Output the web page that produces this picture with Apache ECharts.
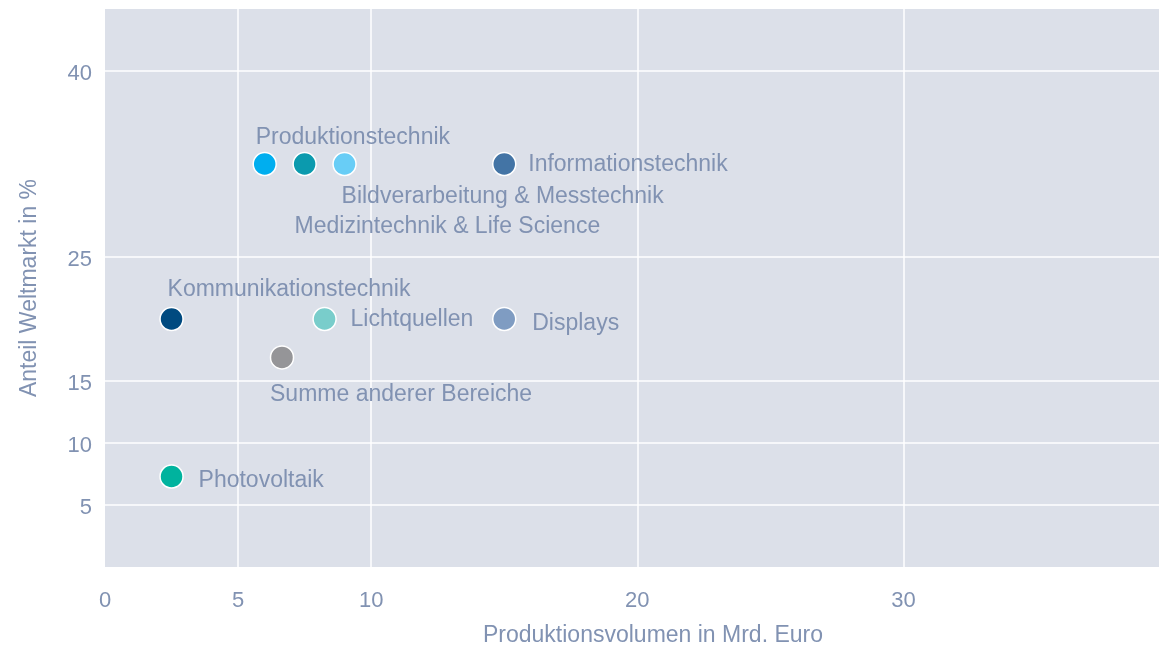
<!DOCTYPE html>
<html>
<head>
<meta charset="utf-8">
<script src="https://cdn.jsdelivr.net/npm/echarts@6/dist/echarts.min.js"></script>
<style>
  html, body { margin: 0; padding: 0; background: #ffffff; }
  #chart { width: 1159px; height: 648px; }
</style>
</head>
<body>
<div id="chart"></div>
<script>
// Bereiche, Produktionsvolumen (Mrd. Euro) und Anteil am Weltmarkt (%)
const bereiche = [
  'Produktionstechnik',
  'Medizintechnik & Life Science',
  'Bildverarbeitung & Messtechnik',
  'Informationstechnik',
  'Kommunikationstechnik',
  'Lichtquellen',
  'Displays',
  'Summe anderer Bereiche',
  'Photovoltaik'
];
const produktionsvolumen = [6, 7.5, 9, 15, 2.5, 8.25, 15, 6.65, 2.5];
const weltmarktanteil = [32.5, 32.5, 32.5, 32.5, 20, 20, 20, 16.9, 7.3];

const xTickLabels = [0, 5, 10, 20, 30];
const xGridValues = [5, 10, 20, 30];
const yTickLabels = [5, 10, 15, 25, 40];

// Farben und Beschriftungsversatz je Bereich
const farben = {
  'Produktionstechnik': '#00aeef',
  'Medizintechnik & Life Science': '#0b9aae',
  'Bildverarbeitung & Messtechnik': '#68cdf6',
  'Informationstechnik': '#4374a5',
  'Kommunikationstechnik': '#004a80',
  'Lichtquellen': '#79cdcb',
  'Displays': '#7f9cc2',
  'Summe anderer Bereiche': '#959598',
  'Photovoltaik': '#00b39e'
};
const labelVersatz = {
  'Produktionstechnik': [-9, -26],
  'Medizintechnik & Life Science': [-10, 63],
  'Bildverarbeitung & Messtechnik': [-3, 33],
  'Informationstechnik': [24, 1],
  'Kommunikationstechnik': [-4, -29],
  'Lichtquellen': [26, 1],
  'Displays': [28, 5],
  'Summe anderer Bereiche': [-12, 37],
  'Photovoltaik': [27, 4]
};

const textFarbe = '#8192b2';
const schrift = 'Liberation Sans';

const punkte = bereiche.map((name, i) => ({
  name: name,
  value: [produktionsvolumen[i], weltmarktanteil[i]],
  itemStyle: { color: farben[name] },
  label: { offset: labelVersatz[name] }
}));

const chart = echarts.init(document.getElementById('chart'), null, { renderer: 'canvas' });
chart.setOption({
  backgroundColor: '#ffffff',
  animation: false,
  grid: {
    left: 105, right: 0, top: 9, bottom: 81,
    outerBoundsMode: 'none',
    containLabel: false,
    show: true, backgroundColor: '#dce0e9', borderWidth: 0
  },
  xAxis: {
    type: 'value', min: 0, max: 39.6,
    name: 'Produktionsvolumen in Mrd. Euro',
    nameLocation: 'middle', nameGap: 57,
    nameTextStyle: { color: textFarbe, fontSize: 23, fontFamily: schrift, padding: [0, 0, 0, 42] },
    axisLine: { show: false },
    axisTick: { show: false, customValues: xGridValues },
    axisLabel: { customValues: xTickLabels, color: textFarbe, fontSize: 22, fontFamily: schrift, margin: 23 },
    splitLine: { show: true, lineStyle: { color: '#ffffff', width: 1.5 } }
  },
  yAxis: {
    type: 'value', min: 0, max: 45,
    name: 'Anteil Weltmarkt in %',
    nameLocation: 'middle', nameGap: 64,
    nameTextStyle: { color: textFarbe, fontSize: 23, fontFamily: schrift },
    axisLine: { show: false },
    axisTick: { show: false, customValues: yTickLabels },
    axisLabel: {
      customValues: yTickLabels,
      margin: 13,
      formatter: '{t|{value}}',
      rich: {
        t: { color: textFarbe, fontSize: 22, fontFamily: schrift, padding: [6, 0, 0, 0] }
      }
    },
    splitLine: { show: true, lineStyle: { color: '#ffffff', width: 1.5 } }
  },
  series: [{
    type: 'scatter',
    symbolSize: 23,
    itemStyle: { borderColor: '#ffffff', borderWidth: 1.5, opacity: 1 },
    label: {
      show: true,
      position: 'inside',
      align: 'left',
      verticalAlign: 'middle',
      formatter: '{b}',
      color: textFarbe,
      fontSize: 23,
      fontFamily: schrift
    },
    emphasis: { disabled: true },
    data: punkte
  }]
});
</script>
</body>
</html>
